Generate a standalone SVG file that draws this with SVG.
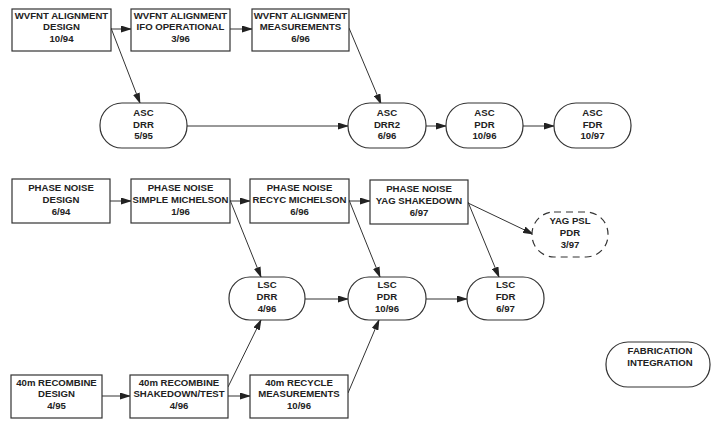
<svg xmlns="http://www.w3.org/2000/svg" width="711" height="421" viewBox="0 0 711 421">
<style>
.b{fill:#fff;stroke:#333;stroke-width:1.2}
.d{fill:#fff;stroke:#333;stroke-width:1.2;stroke-dasharray:7,5}
.t{font-family:"Liberation Sans",Arial,sans-serif;font-weight:bold;font-size:9.6px;fill:#222;text-anchor:middle}
.c{stroke:#333;stroke-width:1;fill:none;marker-end:url(#ah)}
</style>
<defs>
<marker id="ah" markerUnits="userSpaceOnUse" markerWidth="11" markerHeight="7" refX="10" refY="3.5" orient="auto">
<path d="M0,0 L11,3.5 L0,7 z" fill="#222"/>
</marker>
</defs>
<rect width="711" height="421" fill="#fff"/>
<g id="connectors">
<line class="c" x1="111" y1="29" x2="131" y2="29"/>
<line class="c" x1="230" y1="29" x2="252" y2="29"/>
<line class="c" x1="111" y1="28" x2="140" y2="103"/>
<line class="c" x1="349" y1="28" x2="381" y2="104"/>
<line class="c" x1="187" y1="126" x2="348" y2="126"/>
<line class="c" x1="426" y1="126" x2="446" y2="126"/>
<line class="c" x1="523" y1="126" x2="554" y2="126"/>
<line class="c" x1="110" y1="201" x2="131" y2="201"/>
<line class="c" x1="230" y1="201" x2="250" y2="201"/>
<line class="c" x1="349" y1="201" x2="370" y2="201"/>
<line class="c" x1="230" y1="200" x2="261" y2="277"/>
<line class="c" x1="349" y1="200" x2="380" y2="277"/>
<line class="c" x1="468" y1="202" x2="499" y2="277"/>
<line class="c" x1="468" y1="203" x2="533" y2="234"/>
<line class="c" x1="305" y1="299" x2="348" y2="299"/>
<line class="c" x1="426" y1="299" x2="467" y2="299"/>
<line class="c" x1="102" y1="396" x2="130" y2="396"/>
<line class="c" x1="228" y1="396" x2="250" y2="396"/>
<line class="c" x1="228" y1="387" x2="261" y2="320"/>
<line class="c" x1="348" y1="393" x2="379" y2="320"/>
</g>
<g id="wvfnt-design"><rect class="b" x="12" y="9" width="99" height="42"/>
<text class="t" x="61.5" y="18.5">WVFNT ALIGNMENT</text><text class="t" x="61.5" y="30">DESIGN</text><text class="t" x="61.5" y="41.5">10/94</text></g>
<g id="wvfnt-ifo"><rect class="b" x="131" y="9" width="99" height="42"/>
<text class="t" x="180.5" y="18.5">WVFNT ALIGNMENT</text><text class="t" x="180.5" y="30">IFO OPERATIONAL</text><text class="t" x="180.5" y="41.5">3/96</text></g>
<g id="wvfnt-meas"><rect class="b" x="252" y="9" width="97" height="42"/>
<text class="t" x="300.5" y="18.5">WVFNT ALIGNMENT</text><text class="t" x="300.5" y="30">MEASUREMENTS</text><text class="t" x="300.5" y="41.5">6/96</text></g>
<g id="asc-drr"><rect class="b" x="100" y="103" width="87" height="45" rx="22" ry="22"/>
<text class="t" x="143.5" y="116">ASC</text><text class="t" x="143.5" y="127.5">DRR</text><text class="t" x="143.5" y="139">5/95</text></g>
<g id="asc-drr2"><rect class="b" x="348" y="103" width="78" height="45" rx="22" ry="22"/>
<text class="t" x="387" y="116">ASC</text><text class="t" x="387" y="127.5">DRR2</text><text class="t" x="387" y="139">6/96</text></g>
<g id="asc-pdr"><rect class="b" x="446" y="103" width="77" height="45" rx="22" ry="22"/>
<text class="t" x="484.5" y="116">ASC</text><text class="t" x="484.5" y="127.5">PDR</text><text class="t" x="484.5" y="139">10/96</text></g>
<g id="asc-fdr"><rect class="b" x="554" y="103" width="77" height="45" rx="22" ry="22"/>
<text class="t" x="592.5" y="116">ASC</text><text class="t" x="592.5" y="127.5">FDR</text><text class="t" x="592.5" y="139">10/97</text></g>
<g id="pn-design"><rect class="b" x="12" y="179" width="98" height="44"/>
<text class="t" x="61" y="190.5">PHASE NOISE</text><text class="t" x="61" y="202.5">DESIGN</text><text class="t" x="61" y="214.5">6/94</text></g>
<g id="pn-simple"><rect class="b" x="131" y="179" width="99" height="44"/>
<text class="t" x="180.5" y="190.5">PHASE NOISE</text><text class="t" x="180.5" y="202.5">SIMPLE MICHELSON</text><text class="t" x="180.5" y="214.5">1/96</text></g>
<g id="pn-recyc"><rect class="b" x="250" y="179" width="99" height="44"/>
<text class="t" x="299.5" y="190.5">PHASE NOISE</text><text class="t" x="299.5" y="202.5">RECYC MICHELSON</text><text class="t" x="299.5" y="214.5">6/96</text></g>
<g id="pn-yag"><rect class="b" x="370" y="180" width="98" height="44"/>
<text class="t" x="419" y="191.5">PHASE NOISE</text><text class="t" x="419" y="203.5">YAG SHAKEDOWN</text><text class="t" x="419" y="215.5">6/97</text></g>
<g id="yag-psl"><rect class="d" x="532" y="212" width="76" height="45" rx="22" ry="22"/>
<text class="t" x="570" y="223.5">YAG PSL</text><text class="t" x="570" y="235.5">PDR</text><text class="t" x="570" y="247.5">3/97</text></g>
<g id="lsc-drr"><rect class="b" x="229" y="277" width="76" height="43" rx="21" ry="21"/>
<text class="t" x="267" y="287.5">LSC</text><text class="t" x="267" y="299.5">DRR</text><text class="t" x="267" y="311.5">4/96</text></g>
<g id="lsc-pdr"><rect class="b" x="348" y="277" width="78" height="43" rx="21" ry="21"/>
<text class="t" x="387" y="287.5">LSC</text><text class="t" x="387" y="299.5">PDR</text><text class="t" x="387" y="311.5">10/96</text></g>
<g id="lsc-fdr"><rect class="b" x="467" y="277" width="77" height="43" rx="21" ry="21"/>
<text class="t" x="505.5" y="287.5">LSC</text><text class="t" x="505.5" y="299.5">FDR</text><text class="t" x="505.5" y="311.5">6/97</text></g>
<g id="r40-design"><rect class="b" x="11" y="375" width="91" height="43"/>
<text class="t" x="56.5" y="385.5">40m RECOMBINE</text><text class="t" x="56.5" y="397">DESIGN</text><text class="t" x="56.5" y="408.5">4/95</text></g>
<g id="r40-shake"><rect class="b" x="130" y="375" width="98" height="43"/>
<text class="t" x="179" y="385.5">40m RECOMBINE</text><text class="t" x="179" y="397">SHAKEDOWN/TEST</text><text class="t" x="179" y="408.5">4/96</text></g>
<g id="r40-recycle"><rect class="b" x="250" y="375" width="98" height="43"/>
<text class="t" x="299" y="385.5">40m RECYCLE</text><text class="t" x="299" y="397">MEASUREMENTS</text><text class="t" x="299" y="408.5">10/96</text></g>
<g id="fab-int"><rect class="b" x="606" y="342" width="104" height="45" rx="22" ry="22"/>
<text class="t" x="660" y="353.5">FABRICATION</text><text class="t" x="660" y="366">INTEGRATION</text></g>
</svg>
